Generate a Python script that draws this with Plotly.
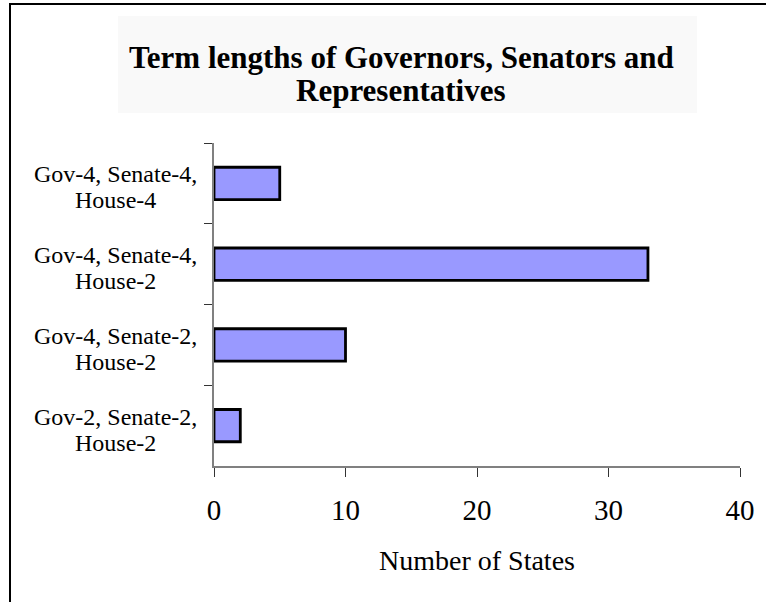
import plotly.graph_objects as go

categories = ["Gov-4, Senate-4,<br>House-4", "Gov-4, Senate-4,<br>House-2",
              "Gov-4, Senate-2,<br>House-2", "Gov-2, Senate-2,<br>House-2"]
label_line1 = ["Gov-4, Senate-4,", "Gov-4, Senate-4,", "Gov-4, Senate-2,", "Gov-2, Senate-2,"]
label_line2 = ["House-4", "House-2", "House-2", "House-2"]
values = [5, 33, 10, 2]
x_ticks = [0, 10, 20, 30, 40]
title_lines = ["Term lengths of Governors, Senators and", "Representatives"]
x_title = "Number of States"

W, H = 766, 602
L, R, T, B = 214, 26, 143, 136
pw, ph = W - L - R, H - T - B

def px_x(p):
    return (p - L) / pw

def px_y(p):
    return (H - B - p) / ph

FONT = "Liberation Serif, Times New Roman, serif"

fig = go.Figure(go.Bar(
    y=categories, x=values, orientation="h",
    marker=dict(color="#9999FF", line=dict(color="black", width=2.8)),
    width=0.4,
))

annotations = []
for c, l1, l2 in zip(categories, label_line1, label_line2):
    annotations.append(dict(x=px_x(115), xref="paper", y=c, yref="y", text=l1,
                            showarrow=False, xanchor="center", yanchor="middle",
                            yshift=9, font=dict(family=FONT, size=24, color="black")))
    annotations.append(dict(x=px_x(115), xref="paper", y=c, yref="y", text=l2,
                            showarrow=False, xanchor="center", yanchor="middle",
                            yshift=-17, font=dict(family=FONT, size=24, color="black")))

for line, ypx in zip(title_lines, [57, 91]):
    annotations.append(dict(x=px_x(401), xref="paper", y=px_y(ypx), yref="paper",
                            text="<b>" + line + "</b>",
                            showarrow=False, xanchor="center", yanchor="middle",
                            font=dict(family=FONT, size=31, color="black")))

shapes = [
    dict(type="rect", xref="paper", yref="paper", layer="below",
         x0=px_x(118), x1=px_x(697), y0=px_y(113), y1=px_y(16),
         fillcolor="#f9f9f9", line=dict(width=0)),
    dict(type="rect", xref="paper", yref="paper", layer="above",
         x0=px_x(10), x1=px_x(780), y0=px_y(615), y1=px_y(4),
         fillcolor="rgba(0,0,0,0)", line=dict(color="black", width=2)),
]

fig.update_layout(
    width=W, height=H,
    margin=dict(l=L, r=R, t=T, b=B, pad=0),
    paper_bgcolor="white", plot_bgcolor="white",
    showlegend=False,
    annotations=annotations, shapes=shapes,
    font=dict(family=FONT, color="black"),
    xaxis=dict(range=[0, 40], tickvals=x_ticks, ticks="outside", ticklen=9,
               tickcolor="#333333", showline=True, linecolor="#808080", linewidth=1.5,
               showgrid=False, zeroline=False,
               tickfont=dict(family=FONT, size=29, color="black"),
               ticklabelstandoff=8,
               title=dict(text=x_title, font=dict(family=FONT, size=28, color="black"),
                          standoff=26)),
    yaxis=dict(range=[3.5, -0.5], type="category", tickson="boundaries",
               ticks="outside", ticklen=8, tickcolor="#333333",
               showline=True, linecolor="#808080", linewidth=1.5,
               showgrid=False, zeroline=False, showticklabels=False),
)

fig.write_html("out.html")
